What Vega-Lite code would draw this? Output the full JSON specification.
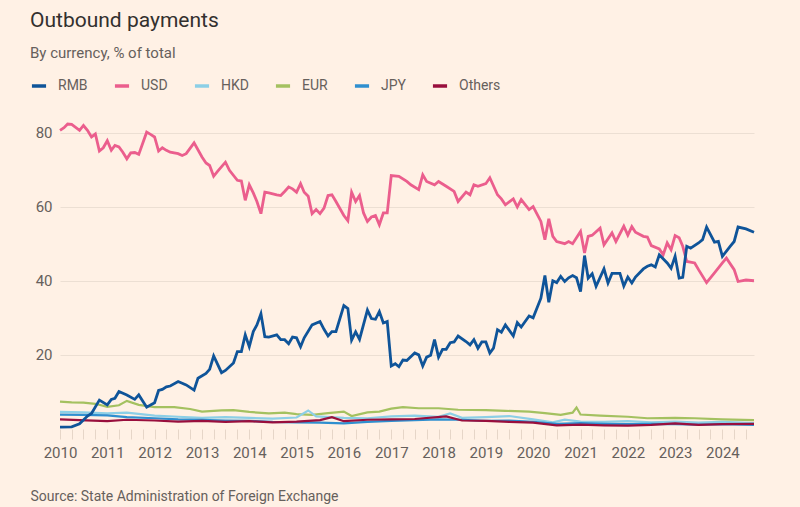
{
  "$schema": "https://vega.github.io/schema/vega-lite/v6.json",
  "width": 694,
  "height": 315,
  "autosize": {"type": "none"},
  "padding": {"left": 60, "top": 114, "right": 46, "bottom": 78},
  "background": "#fff1e5",
  "config": {
    "view": {"stroke": null},
    "font": "Roboto",
    "axis": {"labelFont": "Roboto", "titleFont": "Roboto"},
    "legend": {"labelFont": "Roboto"}
  },
  "title": {
    "text": "Outbound payments",
    "subtitle": "By currency, % of total",
    "anchor": "start",
    "frame": "group",
    "dx": -30,
    "offset": 16,
    "font": "Roboto",
    "fontSize": 21,
    "fontWeight": 400,
    "color": "#33302e",
    "subtitleFont": "Roboto",
    "subtitleFontSize": 15,
    "subtitleColor": "#66605c",
    "subtitlePadding": 15
  },
  "data": {
    "values": [
      {"date": "2010-01", "currency": "USD", "pct": 80.6},
      {"date": "2010-02", "currency": "USD", "pct": 81.3},
      {"date": "2010-03", "currency": "USD", "pct": 82.3},
      {"date": "2010-04", "currency": "USD", "pct": 82.2},
      {"date": "2010-06", "currency": "USD", "pct": 80.6},
      {"date": "2010-07", "currency": "USD", "pct": 81.9},
      {"date": "2010-08", "currency": "USD", "pct": 80.6},
      {"date": "2010-09", "currency": "USD", "pct": 78.8},
      {"date": "2010-10", "currency": "USD", "pct": 79.6},
      {"date": "2010-11", "currency": "USD", "pct": 75.0},
      {"date": "2010-12", "currency": "USD", "pct": 75.9},
      {"date": "2011-01", "currency": "USD", "pct": 77.8},
      {"date": "2011-02", "currency": "USD", "pct": 75.2},
      {"date": "2011-03", "currency": "USD", "pct": 76.5},
      {"date": "2011-04", "currency": "USD", "pct": 76.1},
      {"date": "2011-05", "currency": "USD", "pct": 74.7},
      {"date": "2011-06", "currency": "USD", "pct": 72.9},
      {"date": "2011-07", "currency": "USD", "pct": 74.5},
      {"date": "2011-08", "currency": "USD", "pct": 74.6},
      {"date": "2011-09", "currency": "USD", "pct": 74.1},
      {"date": "2011-11", "currency": "USD", "pct": 80.1},
      {"date": "2011-12", "currency": "USD", "pct": 79.5},
      {"date": "2012-01", "currency": "USD", "pct": 78.8},
      {"date": "2012-02", "currency": "USD", "pct": 75.0},
      {"date": "2012-03", "currency": "USD", "pct": 75.9},
      {"date": "2012-04", "currency": "USD", "pct": 75.2},
      {"date": "2012-05", "currency": "USD", "pct": 74.7},
      {"date": "2012-07", "currency": "USD", "pct": 74.3},
      {"date": "2012-08", "currency": "USD", "pct": 73.8},
      {"date": "2012-09", "currency": "USD", "pct": 74.3},
      {"date": "2012-11", "currency": "USD", "pct": 77.2},
      {"date": "2013-01", "currency": "USD", "pct": 73.4},
      {"date": "2013-02", "currency": "USD", "pct": 71.8},
      {"date": "2013-03", "currency": "USD", "pct": 71.1},
      {"date": "2013-04", "currency": "USD", "pct": 68.2},
      {"date": "2013-05", "currency": "USD", "pct": 69.5},
      {"date": "2013-07", "currency": "USD", "pct": 72.0},
      {"date": "2013-08", "currency": "USD", "pct": 69.8},
      {"date": "2013-10", "currency": "USD", "pct": 67.1},
      {"date": "2013-11", "currency": "USD", "pct": 66.9},
      {"date": "2013-12", "currency": "USD", "pct": 61.7},
      {"date": "2014-01", "currency": "USD", "pct": 65.9},
      {"date": "2014-02", "currency": "USD", "pct": 63.7},
      {"date": "2014-03", "currency": "USD", "pct": 61.4},
      {"date": "2014-04", "currency": "USD", "pct": 58.1},
      {"date": "2014-05", "currency": "USD", "pct": 63.9},
      {"date": "2014-06", "currency": "USD", "pct": 63.7},
      {"date": "2014-08", "currency": "USD", "pct": 63.2},
      {"date": "2014-09", "currency": "USD", "pct": 63.0},
      {"date": "2014-10", "currency": "USD", "pct": 64.1},
      {"date": "2014-11", "currency": "USD", "pct": 65.3},
      {"date": "2014-12", "currency": "USD", "pct": 64.8},
      {"date": "2015-01", "currency": "USD", "pct": 63.9},
      {"date": "2015-02", "currency": "USD", "pct": 66.2},
      {"date": "2015-03", "currency": "USD", "pct": 63.9},
      {"date": "2015-04", "currency": "USD", "pct": 62.8},
      {"date": "2015-05", "currency": "USD", "pct": 58.1},
      {"date": "2015-06", "currency": "USD", "pct": 59.2},
      {"date": "2015-07", "currency": "USD", "pct": 58.1},
      {"date": "2015-08", "currency": "USD", "pct": 59.6},
      {"date": "2015-09", "currency": "USD", "pct": 63.0},
      {"date": "2015-10", "currency": "USD", "pct": 63.2},
      {"date": "2015-11", "currency": "USD", "pct": 61.4},
      {"date": "2016-01", "currency": "USD", "pct": 57.6},
      {"date": "2016-02", "currency": "USD", "pct": 56.2},
      {"date": "2016-03", "currency": "USD", "pct": 63.9},
      {"date": "2016-04", "currency": "USD", "pct": 61.4},
      {"date": "2016-05", "currency": "USD", "pct": 63.0},
      {"date": "2016-06", "currency": "USD", "pct": 58.3},
      {"date": "2016-07", "currency": "USD", "pct": 56.0},
      {"date": "2016-08", "currency": "USD", "pct": 57.2},
      {"date": "2016-09", "currency": "USD", "pct": 57.6},
      {"date": "2016-10", "currency": "USD", "pct": 55.1},
      {"date": "2016-11", "currency": "USD", "pct": 58.3},
      {"date": "2016-12", "currency": "USD", "pct": 58.3},
      {"date": "2017-01", "currency": "USD", "pct": 68.4},
      {"date": "2017-03", "currency": "USD", "pct": 68.2},
      {"date": "2017-05", "currency": "USD", "pct": 66.8},
      {"date": "2017-06", "currency": "USD", "pct": 65.9},
      {"date": "2017-08", "currency": "USD", "pct": 64.6},
      {"date": "2017-09", "currency": "USD", "pct": 68.6},
      {"date": "2017-10", "currency": "USD", "pct": 66.8},
      {"date": "2017-12", "currency": "USD", "pct": 65.9},
      {"date": "2018-01", "currency": "USD", "pct": 66.8},
      {"date": "2018-03", "currency": "USD", "pct": 65.5},
      {"date": "2018-05", "currency": "USD", "pct": 64.1},
      {"date": "2018-06", "currency": "USD", "pct": 61.4},
      {"date": "2018-08", "currency": "USD", "pct": 63.9},
      {"date": "2018-09", "currency": "USD", "pct": 63.2},
      {"date": "2018-10", "currency": "USD", "pct": 65.9},
      {"date": "2018-11", "currency": "USD", "pct": 65.5},
      {"date": "2019-01", "currency": "USD", "pct": 66.2},
      {"date": "2019-02", "currency": "USD", "pct": 67.8},
      {"date": "2019-04", "currency": "USD", "pct": 63.2},
      {"date": "2019-05", "currency": "USD", "pct": 62.1},
      {"date": "2019-06", "currency": "USD", "pct": 60.5},
      {"date": "2019-08", "currency": "USD", "pct": 62.1},
      {"date": "2019-09", "currency": "USD", "pct": 59.9},
      {"date": "2019-10", "currency": "USD", "pct": 61.9},
      {"date": "2019-12", "currency": "USD", "pct": 59.2},
      {"date": "2020-01", "currency": "USD", "pct": 60.0},
      {"date": "2020-03", "currency": "USD", "pct": 56.0},
      {"date": "2020-04", "currency": "USD", "pct": 51.1},
      {"date": "2020-05", "currency": "USD", "pct": 56.7},
      {"date": "2020-06", "currency": "USD", "pct": 52.0},
      {"date": "2020-07", "currency": "USD", "pct": 50.6},
      {"date": "2020-09", "currency": "USD", "pct": 50.0},
      {"date": "2020-10", "currency": "USD", "pct": 50.6},
      {"date": "2020-11", "currency": "USD", "pct": 50.0},
      {"date": "2021-01", "currency": "USD", "pct": 53.3},
      {"date": "2021-02", "currency": "USD", "pct": 47.5},
      {"date": "2021-03", "currency": "USD", "pct": 52.0},
      {"date": "2021-04", "currency": "USD", "pct": 52.3},
      {"date": "2021-06", "currency": "USD", "pct": 54.2},
      {"date": "2021-07", "currency": "USD", "pct": 49.7},
      {"date": "2021-09", "currency": "USD", "pct": 52.9},
      {"date": "2021-10", "currency": "USD", "pct": 50.6},
      {"date": "2021-12", "currency": "USD", "pct": 54.7},
      {"date": "2022-01", "currency": "USD", "pct": 52.3},
      {"date": "2022-02", "currency": "USD", "pct": 54.6},
      {"date": "2022-03", "currency": "USD", "pct": 53.1},
      {"date": "2022-05", "currency": "USD", "pct": 52.0},
      {"date": "2022-06", "currency": "USD", "pct": 51.8},
      {"date": "2022-07", "currency": "USD", "pct": 49.5},
      {"date": "2022-09", "currency": "USD", "pct": 48.6},
      {"date": "2022-10", "currency": "USD", "pct": 47.0},
      {"date": "2022-11", "currency": "USD", "pct": 50.2},
      {"date": "2022-12", "currency": "USD", "pct": 48.4},
      {"date": "2023-01", "currency": "USD", "pct": 52.2},
      {"date": "2023-02", "currency": "USD", "pct": 51.6},
      {"date": "2023-03", "currency": "USD", "pct": 49.3},
      {"date": "2023-04", "currency": "USD", "pct": 45.2},
      {"date": "2023-06", "currency": "USD", "pct": 44.8},
      {"date": "2023-07", "currency": "USD", "pct": 43.0},
      {"date": "2023-09", "currency": "USD", "pct": 39.5},
      {"date": "2023-11", "currency": "USD", "pct": 42.1},
      {"date": "2024-01", "currency": "USD", "pct": 44.8},
      {"date": "2024-02", "currency": "USD", "pct": 46.1},
      {"date": "2024-04", "currency": "USD", "pct": 43.0},
      {"date": "2024-05", "currency": "USD", "pct": 39.8},
      {"date": "2024-07", "currency": "USD", "pct": 40.2},
      {"date": "2024-09", "currency": "USD", "pct": 40.0},

      {"date": "2010-01", "currency": "RMB", "pct": 0.5},
      {"date": "2010-04", "currency": "RMB", "pct": 0.6},
      {"date": "2010-06", "currency": "RMB", "pct": 1.4},
      {"date": "2010-08", "currency": "RMB", "pct": 3.5},
      {"date": "2010-09", "currency": "RMB", "pct": 4.2},
      {"date": "2010-11", "currency": "RMB", "pct": 7.8},
      {"date": "2011-01", "currency": "RMB", "pct": 6.5},
      {"date": "2011-02", "currency": "RMB", "pct": 8.0},
      {"date": "2011-03", "currency": "RMB", "pct": 8.3},
      {"date": "2011-04", "currency": "RMB", "pct": 10.1},
      {"date": "2011-06", "currency": "RMB", "pct": 9.2},
      {"date": "2011-08", "currency": "RMB", "pct": 8.0},
      {"date": "2011-09", "currency": "RMB", "pct": 9.2},
      {"date": "2011-11", "currency": "RMB", "pct": 5.9},
      {"date": "2012-01", "currency": "RMB", "pct": 7.1},
      {"date": "2012-02", "currency": "RMB", "pct": 10.4},
      {"date": "2012-03", "currency": "RMB", "pct": 10.7},
      {"date": "2012-04", "currency": "RMB", "pct": 11.4},
      {"date": "2012-05", "currency": "RMB", "pct": 11.6},
      {"date": "2012-07", "currency": "RMB", "pct": 12.8},
      {"date": "2012-09", "currency": "RMB", "pct": 11.9},
      {"date": "2012-11", "currency": "RMB", "pct": 10.5},
      {"date": "2012-12", "currency": "RMB", "pct": 13.7},
      {"date": "2013-02", "currency": "RMB", "pct": 15.0},
      {"date": "2013-03", "currency": "RMB", "pct": 16.1},
      {"date": "2013-04", "currency": "RMB", "pct": 19.7},
      {"date": "2013-06", "currency": "RMB", "pct": 15.2},
      {"date": "2013-07", "currency": "RMB", "pct": 15.8},
      {"date": "2013-09", "currency": "RMB", "pct": 17.8},
      {"date": "2013-10", "currency": "RMB", "pct": 20.9},
      {"date": "2013-11", "currency": "RMB", "pct": 20.9},
      {"date": "2013-12", "currency": "RMB", "pct": 25.4},
      {"date": "2014-01", "currency": "RMB", "pct": 22.2},
      {"date": "2014-02", "currency": "RMB", "pct": 26.3},
      {"date": "2014-03", "currency": "RMB", "pct": 28.1},
      {"date": "2014-04", "currency": "RMB", "pct": 31.1},
      {"date": "2014-05", "currency": "RMB", "pct": 24.9},
      {"date": "2014-06", "currency": "RMB", "pct": 24.8},
      {"date": "2014-08", "currency": "RMB", "pct": 25.4},
      {"date": "2014-09", "currency": "RMB", "pct": 24.1},
      {"date": "2014-10", "currency": "RMB", "pct": 24.1},
      {"date": "2014-11", "currency": "RMB", "pct": 23.0},
      {"date": "2014-12", "currency": "RMB", "pct": 24.8},
      {"date": "2015-01", "currency": "RMB", "pct": 24.6},
      {"date": "2015-02", "currency": "RMB", "pct": 22.2},
      {"date": "2015-03", "currency": "RMB", "pct": 24.6},
      {"date": "2015-05", "currency": "RMB", "pct": 28.1},
      {"date": "2015-07", "currency": "RMB", "pct": 29.0},
      {"date": "2015-08", "currency": "RMB", "pct": 26.9},
      {"date": "2015-09", "currency": "RMB", "pct": 25.1},
      {"date": "2015-10", "currency": "RMB", "pct": 26.3},
      {"date": "2015-11", "currency": "RMB", "pct": 26.3},
      {"date": "2016-01", "currency": "RMB", "pct": 33.3},
      {"date": "2016-02", "currency": "RMB", "pct": 32.5},
      {"date": "2016-03", "currency": "RMB", "pct": 24.0},
      {"date": "2016-04", "currency": "RMB", "pct": 26.2},
      {"date": "2016-05", "currency": "RMB", "pct": 24.2},
      {"date": "2016-07", "currency": "RMB", "pct": 32.1},
      {"date": "2016-08", "currency": "RMB", "pct": 29.8},
      {"date": "2016-09", "currency": "RMB", "pct": 29.6},
      {"date": "2016-10", "currency": "RMB", "pct": 31.7},
      {"date": "2016-11", "currency": "RMB", "pct": 28.6},
      {"date": "2016-12", "currency": "RMB", "pct": 29.0},
      {"date": "2017-01", "currency": "RMB", "pct": 17.0},
      {"date": "2017-02", "currency": "RMB", "pct": 17.6},
      {"date": "2017-03", "currency": "RMB", "pct": 16.8},
      {"date": "2017-04", "currency": "RMB", "pct": 18.6},
      {"date": "2017-05", "currency": "RMB", "pct": 18.5},
      {"date": "2017-07", "currency": "RMB", "pct": 20.5},
      {"date": "2017-08", "currency": "RMB", "pct": 20.0},
      {"date": "2017-09", "currency": "RMB", "pct": 17.0},
      {"date": "2017-10", "currency": "RMB", "pct": 19.4},
      {"date": "2017-11", "currency": "RMB", "pct": 19.9},
      {"date": "2017-12", "currency": "RMB", "pct": 24.1},
      {"date": "2018-01", "currency": "RMB", "pct": 19.4},
      {"date": "2018-02", "currency": "RMB", "pct": 21.5},
      {"date": "2018-03", "currency": "RMB", "pct": 21.5},
      {"date": "2018-04", "currency": "RMB", "pct": 23.3},
      {"date": "2018-05", "currency": "RMB", "pct": 23.5},
      {"date": "2018-06", "currency": "RMB", "pct": 25.1},
      {"date": "2018-08", "currency": "RMB", "pct": 23.6},
      {"date": "2018-09", "currency": "RMB", "pct": 22.7},
      {"date": "2018-10", "currency": "RMB", "pct": 24.1},
      {"date": "2018-11", "currency": "RMB", "pct": 21.8},
      {"date": "2018-12", "currency": "RMB", "pct": 23.5},
      {"date": "2019-01", "currency": "RMB", "pct": 23.5},
      {"date": "2019-02", "currency": "RMB", "pct": 20.5},
      {"date": "2019-03", "currency": "RMB", "pct": 21.8},
      {"date": "2019-04", "currency": "RMB", "pct": 26.8},
      {"date": "2019-05", "currency": "RMB", "pct": 26.1},
      {"date": "2019-06", "currency": "RMB", "pct": 28.1},
      {"date": "2019-08", "currency": "RMB", "pct": 25.1},
      {"date": "2019-09", "currency": "RMB", "pct": 28.7},
      {"date": "2019-10", "currency": "RMB", "pct": 27.5},
      {"date": "2019-12", "currency": "RMB", "pct": 30.5},
      {"date": "2020-01", "currency": "RMB", "pct": 30.0},
      {"date": "2020-03", "currency": "RMB", "pct": 35.3},
      {"date": "2020-04", "currency": "RMB", "pct": 41.4},
      {"date": "2020-05", "currency": "RMB", "pct": 34.2},
      {"date": "2020-06", "currency": "RMB", "pct": 40.0},
      {"date": "2020-07", "currency": "RMB", "pct": 39.5},
      {"date": "2020-08", "currency": "RMB", "pct": 41.2},
      {"date": "2020-09", "currency": "RMB", "pct": 39.8},
      {"date": "2020-10", "currency": "RMB", "pct": 40.8},
      {"date": "2020-11", "currency": "RMB", "pct": 41.4},
      {"date": "2020-12", "currency": "RMB", "pct": 40.8},
      {"date": "2021-01", "currency": "RMB", "pct": 37.1},
      {"date": "2021-02", "currency": "RMB", "pct": 46.8},
      {"date": "2021-03", "currency": "RMB", "pct": 40.7},
      {"date": "2021-04", "currency": "RMB", "pct": 41.9},
      {"date": "2021-05", "currency": "RMB", "pct": 38.5},
      {"date": "2021-07", "currency": "RMB", "pct": 43.2},
      {"date": "2021-08", "currency": "RMB", "pct": 39.4},
      {"date": "2021-09", "currency": "RMB", "pct": 42.0},
      {"date": "2021-11", "currency": "RMB", "pct": 42.0},
      {"date": "2021-12", "currency": "RMB", "pct": 38.6},
      {"date": "2022-01", "currency": "RMB", "pct": 41.0},
      {"date": "2022-02", "currency": "RMB", "pct": 39.4},
      {"date": "2022-03", "currency": "RMB", "pct": 41.0},
      {"date": "2022-05", "currency": "RMB", "pct": 43.2},
      {"date": "2022-06", "currency": "RMB", "pct": 43.9},
      {"date": "2022-07", "currency": "RMB", "pct": 44.3},
      {"date": "2022-08", "currency": "RMB", "pct": 43.7},
      {"date": "2022-09", "currency": "RMB", "pct": 47.0},
      {"date": "2022-11", "currency": "RMB", "pct": 44.8},
      {"date": "2022-12", "currency": "RMB", "pct": 43.4},
      {"date": "2023-01", "currency": "RMB", "pct": 46.6},
      {"date": "2023-02", "currency": "RMB", "pct": 40.7},
      {"date": "2023-03", "currency": "RMB", "pct": 40.9},
      {"date": "2023-04", "currency": "RMB", "pct": 49.3},
      {"date": "2023-05", "currency": "RMB", "pct": 48.8},
      {"date": "2023-07", "currency": "RMB", "pct": 50.2},
      {"date": "2023-08", "currency": "RMB", "pct": 51.1},
      {"date": "2023-09", "currency": "RMB", "pct": 54.5},
      {"date": "2023-11", "currency": "RMB", "pct": 50.4},
      {"date": "2023-12", "currency": "RMB", "pct": 50.6},
      {"date": "2024-01", "currency": "RMB", "pct": 46.6},
      {"date": "2024-03", "currency": "RMB", "pct": 49.3},
      {"date": "2024-04", "currency": "RMB", "pct": 50.6},
      {"date": "2024-05", "currency": "RMB", "pct": 54.5},
      {"date": "2024-07", "currency": "RMB", "pct": 54.0},
      {"date": "2024-09", "currency": "RMB", "pct": 53.1},

      {"date": "2010-01", "currency": "EUR", "pct": 7.4},
      {"date": "2010-04", "currency": "EUR", "pct": 7.2},
      {"date": "2010-07", "currency": "EUR", "pct": 7.1},
      {"date": "2010-10", "currency": "EUR", "pct": 6.8},
      {"date": "2011-01", "currency": "EUR", "pct": 6.0},
      {"date": "2011-04", "currency": "EUR", "pct": 6.4},
      {"date": "2011-06", "currency": "EUR", "pct": 7.6},
      {"date": "2011-09", "currency": "EUR", "pct": 6.5},
      {"date": "2012-01", "currency": "EUR", "pct": 5.9},
      {"date": "2012-06", "currency": "EUR", "pct": 5.9},
      {"date": "2012-10", "currency": "EUR", "pct": 5.4},
      {"date": "2013-01", "currency": "EUR", "pct": 4.7},
      {"date": "2013-06", "currency": "EUR", "pct": 5.0},
      {"date": "2013-09", "currency": "EUR", "pct": 5.1},
      {"date": "2014-01", "currency": "EUR", "pct": 4.6},
      {"date": "2014-06", "currency": "EUR", "pct": 4.2},
      {"date": "2014-10", "currency": "EUR", "pct": 4.4},
      {"date": "2015-01", "currency": "EUR", "pct": 4.0},
      {"date": "2015-05", "currency": "EUR", "pct": 3.8},
      {"date": "2015-09", "currency": "EUR", "pct": 4.3},
      {"date": "2016-01", "currency": "EUR", "pct": 4.7},
      {"date": "2016-03", "currency": "EUR", "pct": 3.5},
      {"date": "2016-07", "currency": "EUR", "pct": 4.5},
      {"date": "2016-10", "currency": "EUR", "pct": 4.7},
      {"date": "2017-01", "currency": "EUR", "pct": 5.5},
      {"date": "2017-04", "currency": "EUR", "pct": 5.9},
      {"date": "2017-08", "currency": "EUR", "pct": 5.6},
      {"date": "2018-01", "currency": "EUR", "pct": 5.6},
      {"date": "2018-06", "currency": "EUR", "pct": 5.2},
      {"date": "2019-01", "currency": "EUR", "pct": 5.1},
      {"date": "2019-06", "currency": "EUR", "pct": 4.9},
      {"date": "2019-12", "currency": "EUR", "pct": 4.7},
      {"date": "2020-04", "currency": "EUR", "pct": 4.3},
      {"date": "2020-08", "currency": "EUR", "pct": 3.8},
      {"date": "2020-11", "currency": "EUR", "pct": 4.4},
      {"date": "2020-12", "currency": "EUR", "pct": 5.8},
      {"date": "2021-01", "currency": "EUR", "pct": 3.9},
      {"date": "2021-06", "currency": "EUR", "pct": 3.6},
      {"date": "2022-01", "currency": "EUR", "pct": 3.3},
      {"date": "2022-06", "currency": "EUR", "pct": 2.9},
      {"date": "2023-01", "currency": "EUR", "pct": 3.0},
      {"date": "2023-06", "currency": "EUR", "pct": 2.9},
      {"date": "2024-01", "currency": "EUR", "pct": 2.6},
      {"date": "2024-09", "currency": "EUR", "pct": 2.4},

      {"date": "2010-01", "currency": "HKD", "pct": 4.6},
      {"date": "2010-07", "currency": "HKD", "pct": 4.5},
      {"date": "2011-01", "currency": "HKD", "pct": 4.2},
      {"date": "2011-06", "currency": "HKD", "pct": 4.4},
      {"date": "2012-01", "currency": "HKD", "pct": 3.6},
      {"date": "2012-07", "currency": "HKD", "pct": 3.3},
      {"date": "2013-01", "currency": "HKD", "pct": 3.0},
      {"date": "2013-07", "currency": "HKD", "pct": 3.2},
      {"date": "2014-01", "currency": "HKD", "pct": 3.0},
      {"date": "2014-07", "currency": "HKD", "pct": 2.8},
      {"date": "2015-01", "currency": "HKD", "pct": 3.1},
      {"date": "2015-04", "currency": "HKD", "pct": 5.0},
      {"date": "2015-06", "currency": "HKD", "pct": 3.4},
      {"date": "2016-01", "currency": "HKD", "pct": 3.0},
      {"date": "2016-07", "currency": "HKD", "pct": 2.9},
      {"date": "2017-01", "currency": "HKD", "pct": 3.4},
      {"date": "2017-07", "currency": "HKD", "pct": 3.6},
      {"date": "2018-01", "currency": "HKD", "pct": 3.3},
      {"date": "2018-04", "currency": "HKD", "pct": 4.2},
      {"date": "2018-07", "currency": "HKD", "pct": 3.0},
      {"date": "2019-01", "currency": "HKD", "pct": 3.2},
      {"date": "2019-07", "currency": "HKD", "pct": 3.5},
      {"date": "2020-01", "currency": "HKD", "pct": 2.6},
      {"date": "2020-06", "currency": "HKD", "pct": 1.8},
      {"date": "2020-09", "currency": "HKD", "pct": 2.5},
      {"date": "2021-01", "currency": "HKD", "pct": 2.0},
      {"date": "2021-07", "currency": "HKD", "pct": 1.9},
      {"date": "2022-01", "currency": "HKD", "pct": 2.1},
      {"date": "2022-07", "currency": "HKD", "pct": 1.8},
      {"date": "2023-01", "currency": "HKD", "pct": 2.0},
      {"date": "2023-07", "currency": "HKD", "pct": 1.7},
      {"date": "2024-01", "currency": "HKD", "pct": 1.9},
      {"date": "2024-09", "currency": "HKD", "pct": 1.6},

      {"date": "2010-01", "currency": "JPY", "pct": 3.9},
      {"date": "2010-07", "currency": "JPY", "pct": 3.8},
      {"date": "2011-01", "currency": "JPY", "pct": 3.7},
      {"date": "2011-06", "currency": "JPY", "pct": 3.2},
      {"date": "2012-01", "currency": "JPY", "pct": 2.9},
      {"date": "2012-07", "currency": "JPY", "pct": 2.6},
      {"date": "2013-01", "currency": "JPY", "pct": 2.5},
      {"date": "2013-07", "currency": "JPY", "pct": 2.3},
      {"date": "2014-01", "currency": "JPY", "pct": 2.2},
      {"date": "2014-07", "currency": "JPY", "pct": 1.9},
      {"date": "2015-01", "currency": "JPY", "pct": 1.8},
      {"date": "2015-07", "currency": "JPY", "pct": 1.7},
      {"date": "2016-01", "currency": "JPY", "pct": 1.5},
      {"date": "2016-07", "currency": "JPY", "pct": 1.9},
      {"date": "2017-01", "currency": "JPY", "pct": 2.2},
      {"date": "2017-07", "currency": "JPY", "pct": 2.4},
      {"date": "2018-01", "currency": "JPY", "pct": 2.6},
      {"date": "2018-07", "currency": "JPY", "pct": 2.5},
      {"date": "2019-01", "currency": "JPY", "pct": 2.2},
      {"date": "2019-07", "currency": "JPY", "pct": 2.3},
      {"date": "2020-01", "currency": "JPY", "pct": 1.9},
      {"date": "2020-07", "currency": "JPY", "pct": 1.4},
      {"date": "2021-01", "currency": "JPY", "pct": 1.6},
      {"date": "2021-07", "currency": "JPY", "pct": 1.4},
      {"date": "2022-01", "currency": "JPY", "pct": 1.3},
      {"date": "2022-07", "currency": "JPY", "pct": 1.4},
      {"date": "2023-01", "currency": "JPY", "pct": 1.3},
      {"date": "2023-07", "currency": "JPY", "pct": 1.2},
      {"date": "2024-01", "currency": "JPY", "pct": 1.3},
      {"date": "2024-09", "currency": "JPY", "pct": 1.1},

      {"date": "2010-01", "currency": "Others", "pct": 2.6},
      {"date": "2010-06", "currency": "Others", "pct": 2.4},
      {"date": "2011-01", "currency": "Others", "pct": 2.1},
      {"date": "2011-06", "currency": "Others", "pct": 2.5},
      {"date": "2012-01", "currency": "Others", "pct": 2.3},
      {"date": "2012-07", "currency": "Others", "pct": 2.0},
      {"date": "2013-01", "currency": "Others", "pct": 2.2},
      {"date": "2013-07", "currency": "Others", "pct": 1.9},
      {"date": "2014-01", "currency": "Others", "pct": 2.1},
      {"date": "2014-07", "currency": "Others", "pct": 1.8},
      {"date": "2015-01", "currency": "Others", "pct": 2.0},
      {"date": "2015-07", "currency": "Others", "pct": 2.4},
      {"date": "2015-10", "currency": "Others", "pct": 3.2},
      {"date": "2016-01", "currency": "Others", "pct": 2.1},
      {"date": "2016-07", "currency": "Others", "pct": 2.5},
      {"date": "2017-01", "currency": "Others", "pct": 2.6},
      {"date": "2017-07", "currency": "Others", "pct": 2.7},
      {"date": "2018-03", "currency": "Others", "pct": 3.4},
      {"date": "2018-07", "currency": "Others", "pct": 2.3},
      {"date": "2019-01", "currency": "Others", "pct": 2.2},
      {"date": "2019-07", "currency": "Others", "pct": 1.9},
      {"date": "2020-01", "currency": "Others", "pct": 1.7},
      {"date": "2020-07", "currency": "Others", "pct": 1.0},
      {"date": "2021-01", "currency": "Others", "pct": 1.2},
      {"date": "2021-07", "currency": "Others", "pct": 1.0},
      {"date": "2022-01", "currency": "Others", "pct": 0.9},
      {"date": "2022-07", "currency": "Others", "pct": 1.1},
      {"date": "2023-01", "currency": "Others", "pct": 1.5},
      {"date": "2023-07", "currency": "Others", "pct": 1.1},
      {"date": "2024-01", "currency": "Others", "pct": 1.3},
      {"date": "2024-09", "currency": "Others", "pct": 1.4}
    ]
  },
  "encoding": {
    "x": {
      "field": "date",
      "type": "temporal",
      "scale": {
        "type": "utc",
        "domain": [
          {"year": 2010, "month": 1, "date": 1, "utc": true},
          {"year": 2024, "month": 9, "date": 1, "utc": true}
        ]
      },
      "axis": {
        "title": "Source: State Administration of Foreign Exchange",
        "titleX": -30,
        "titleY": 71,
        "titleAnchor": "start",
        "titleAlign": "left",
        "titleBaseline": "alphabetic",
        "titleFontSize": 14,
        "titleFontWeight": 400,
        "titleColor": "#66605c",
        "domain": false,
        "grid": false,
        "ticks": true,
        "tickColor": "#e6d6c8",
        "tickSize": 10,
        "tickCount": {"interval": "month", "step": 3},
        "labelExpr": "utcmonth(datum.value) == 0 ? utcFormat(datum.value, '%Y') : ''",
        "labelPadding": 6,
        "labelFontSize": 15,
        "labelColor": "#66605c",
        "labelFlush": false,
        "labelOverlap": false
      }
    },
    "y": {
      "field": "pct",
      "type": "quantitative",
      "scale": {"domain": [0, 85], "nice": false},
      "axis": {
        "title": null,
        "values": [20, 40, 60, 80],
        "grid": true,
        "gridColor": "#ecdfd3",
        "domain": false,
        "ticks": false,
        "labelPadding": 8,
        "labelFontSize": 15,
        "labelColor": "#66605c"
      }
    },
    "color": {
      "field": "currency",
      "type": "nominal",
      "scale": {
        "domain": ["RMB", "USD", "HKD", "EUR", "JPY", "Others"],
        "range": ["#0f5499", "#eb5e8d", "#8ccfe6", "#a4c160", "#2f8fcf", "#990f3d"]
      },
      "legend": {
        "title": null,
        "orient": "none",
        "legendX": -30,
        "legendY": -37,
        "direction": "horizontal",
        "symbolType": "stroke",
        "symbolSize": 200,
        "symbolStrokeWidth": 3.5,
        "labelFontSize": 14,
        "labelColor": "#66605c",
        "labelOffset": 10,
        "columnPadding": 19
      }
    }
  },
  "layer": [
    {
      "transform": [{"filter": {"field": "currency", "oneOf": ["EUR", "HKD", "JPY", "Others"]}}],
      "mark": {"type": "line", "strokeWidth": 2.2}
    },
    {
      "transform": [{"filter": {"field": "currency", "equal": "USD"}}],
      "mark": {"type": "line", "strokeWidth": 2.8}
    },
    {
      "transform": [{"filter": {"field": "currency", "equal": "RMB"}}],
      "mark": {"type": "line", "strokeWidth": 2.8}
    }
  ]
}
